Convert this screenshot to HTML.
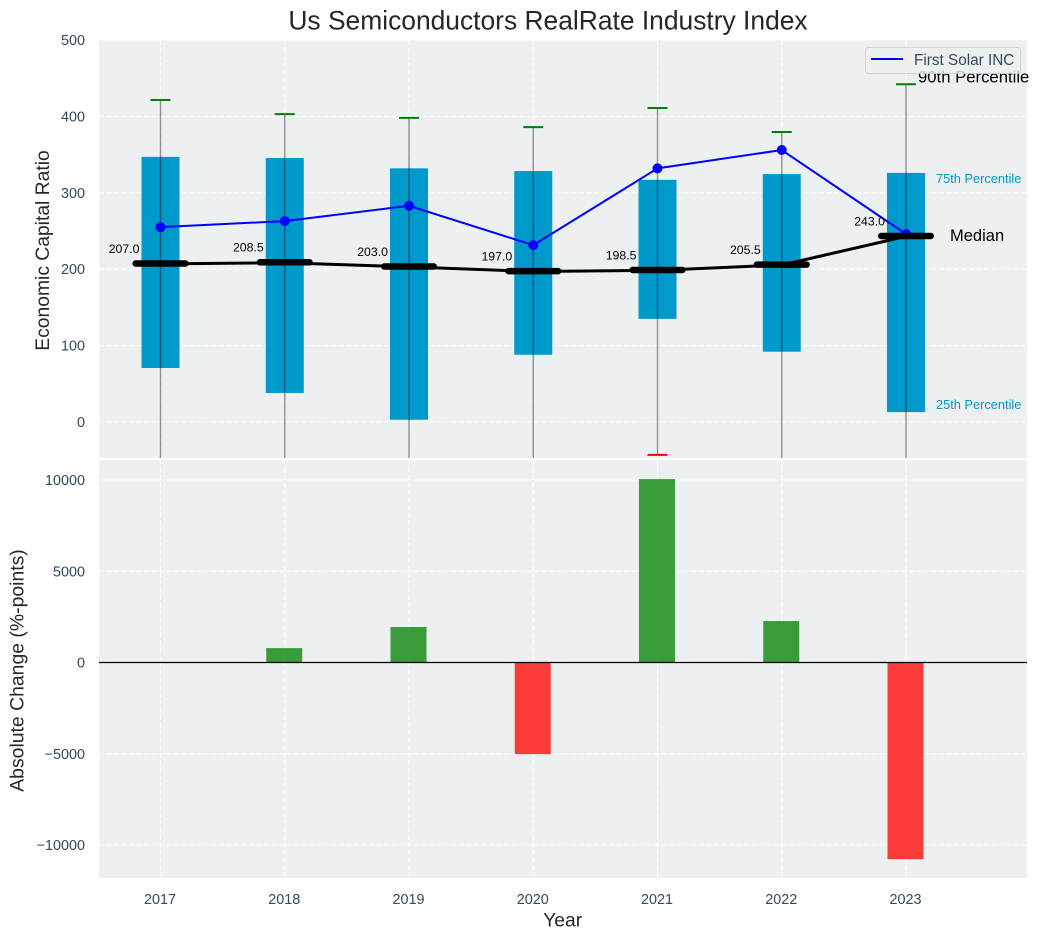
<!DOCTYPE html>
<html lang="en">
<head>
<meta charset="utf-8">
<title>Us Semiconductors RealRate Industry Index</title>
<style>
html,body{margin:0;padding:0;background:#fff;}
svg{display:block;font-family:"Liberation Sans",Arial,sans-serif;}
</style>
</head>
<body>
<svg id="chart" xmlns="http://www.w3.org/2000/svg" width="1038" height="940" viewBox="0 0 1038 940">
  <defs>
    <clipPath id="clip-top"><rect x="99" y="40" width="928" height="418"/></clipPath>
    <clipPath id="clip-bottom"><rect x="99" y="460" width="928" height="418"/></clipPath>
  </defs>
  <rect x="99" y="40" width="928" height="418" fill="#ecf0f1"/>
  <rect x="99" y="460" width="928" height="418" fill="#ecf0f1"/>
  <g id="top-grid"></g>
  <g id="bottom-grid"></g>
  <g id="top-marks" clip-path="url(#clip-top)"></g>
  <g id="bottom-marks" clip-path="url(#clip-bottom)"></g>
  <g id="labels"></g>
  <text x="548" y="29.5" text-anchor="middle" font-size="26.4" fill="#262626">Us Semiconductors RealRate Industry Index</text>
  <text transform="translate(49,250.5) rotate(-90)" text-anchor="middle" font-size="19.3" fill="#262626">Economic Capital Ratio</text>
  <text transform="translate(23.5,670.5) rotate(-90)" text-anchor="middle" font-size="19.4" fill="#262626">Absolute Change (%-points)</text>
  <text x="562.7" y="926.7" text-anchor="middle" font-size="19.3" fill="#262626">Year</text>
  <text x="918" y="82.5" font-size="16.7" fill="#000">90th Percentile</text>
  <text x="936" y="183" font-size="12.8" fill="#0099cc">75th Percentile</text>
  <text x="950" y="241" font-size="16.5" fill="#000">Median</text>
  <text x="936" y="409" font-size="12.8" fill="#0099cc">25th Percentile</text>
  <g>
    <rect x="865.5" y="47.5" width="155" height="26" rx="3" fill="#ecf0f1" fill-opacity="0.8" stroke="#cccccc" stroke-opacity="0.8"/>
    <line x1="871" x2="903" y1="59" y2="59" stroke="#0000ff" stroke-width="2"/>
    <text x="914" y="65" font-size="15.3" fill="#34495e">First Solar INC</text>
  </g>
</svg>
<script>
var years = [2017, 2018, 2019, 2020, 2021, 2022, 2023];
var p10 = [-90, -75, -100, -70, -43, -80, -110];
var p25 = [70.7, 38, 3, 88, 135, 92, 13];
var medians = [207.0, 208.5, 203.0, 197.0, 198.5, 205.5, 243.0];
var p75 = [347, 345.5, 332, 328.5, 317, 324.5, 326];
var p90 = [421.5, 403, 398, 386, 411, 379.5, 442];
var firstSolar = [255, 263, 283, 231.5, 332, 356, 246];
var absoluteChange = [0, 790, 1945, -5020, 10050, 2270, -10780];
var topTicks = [0, 100, 200, 300, 400, 500];
var bottomTicks = [-10000, -5000, 0, 5000, 10000];

var NS = 'http://www.w3.org/2000/svg';
function x(year) { return 160.5 + (year - 2017) * 124.25; }
function yTop(v) { return 422 - v * 0.764; }
function yBottom(v) { return 662.5 - v * 0.01825; }

function make(parent, tag, attrs, text) {
  var el = document.createElementNS(NS, tag);
  for (var k in attrs) { el.setAttribute(k, attrs[k]); }
  if (text !== undefined) { el.textContent = text; }
  parent.appendChild(el);
  return el;
}
function fmt(v) { return String(v).replace('-', '\u2212'); }

var topGrid = document.getElementById('top-grid');
var bottomGrid = document.getElementById('bottom-grid');
var topMarks = document.getElementById('top-marks');
var bottomMarks = document.getElementById('bottom-marks');
var labels = document.getElementById('labels');
var gridStyle = { stroke: '#ffffff', 'stroke-width': 1.1, 'stroke-dasharray': '5 2.5', 'stroke-opacity': 0.9 };

function gridLine(parent, name, a, b, c, d) {
  var el = make(parent, 'line', { x1: a, x2: b, y1: c, y2: d, stroke: gridStyle.stroke, 'stroke-width': gridStyle['stroke-width'], 'stroke-dasharray': gridStyle['stroke-dasharray'], 'stroke-opacity': gridStyle['stroke-opacity'] });
  
  
}

topTicks.forEach(function (t) {
  gridLine(topGrid, 'top-grid-line-y', 99, 1027, yTop(t), yTop(t));
  var lab = make(labels, 'text', { x: 85, y: yTop(t) + 5, 'text-anchor': 'end', 'font-size': 14.4, fill: '#34495e' }, fmt(t));
  
  
});
bottomTicks.forEach(function (t) {
  gridLine(bottomGrid, 'bottom-grid-line-y', 99, 1027, yBottom(t), yBottom(t));
  var lab = make(labels, 'text', { x: 85, y: yBottom(t) + 5, 'text-anchor': 'end', 'font-size': 14.4, fill: '#34495e' }, fmt(t));
  
  
});
years.forEach(function (yr) {
  gridLine(topGrid, 'top-grid-line-x', x(yr), x(yr), 40, 458);
  gridLine(bottomGrid, 'bottom-grid-line-x', x(yr), x(yr), 460, 878);
  var lab = make(labels, 'text', { x: x(yr) - 0.5, y: 904, 'text-anchor': 'middle', 'font-size': 14.4, fill: '#34495e' }, String(yr));
  
  
});

/* Interquartile boxes */
years.forEach(function (yr, i) {
  var box = make(topMarks, 'rect', { x: x(yr) - 19, y: yTop(p75[i]), width: 38, height: yTop(p25[i]) - yTop(p75[i]), fill: '#0099cc' });
  
  
});

/* Whiskers and caps */
years.forEach(function (yr, i) {
  var w = make(topMarks, 'line', { x1: x(yr), x2: x(yr), y1: yTop(p90[i]), y2: yTop(p10[i]), stroke: '#000000', 'stroke-opacity': 0.42, 'stroke-width': 1.4 });
  
  
  var hi = make(topMarks, 'line', { x1: x(yr) - 10, x2: x(yr) + 10, y1: yTop(p90[i]), y2: yTop(p90[i]), stroke: '#008000', 'stroke-width': 2 });
  
  
  var lo = make(topMarks, 'line', { x1: x(yr) - 10, x2: x(yr) + 10, y1: yTop(p10[i]), y2: yTop(p10[i]), stroke: '#ff0000', 'stroke-width': 2 });
  
  
});

/* First Solar series */
var solarPoints = years.map(function (yr, i) { return x(yr) + ',' + yTop(firstSolar[i]); }).join(' ');
var solarLine = make(topMarks, 'polyline', { points: solarPoints, fill: 'none', stroke: '#0000ff', 'stroke-width': 2 });


years.forEach(function (yr, i) {
  var dot = make(topMarks, 'circle', { cx: x(yr), cy: yTop(firstSolar[i]), r: 5, fill: '#0000ff' });
  
  
});

/* Median series */
var medianPoints = years.map(function (yr, i) { return x(yr) + ',' + yTop(medians[i]); }).join(' ');
var medianLine = make(topMarks, 'polyline', { points: medianPoints, fill: 'none', stroke: '#000000', 'stroke-width': 3 });


years.forEach(function (yr, i) {
  var bar = make(topMarks, 'line', { x1: x(yr) - 24.8, x2: x(yr) + 24.8, y1: yTop(medians[i]) - 0.4, y2: yTop(medians[i]) - 0.4, stroke: '#000000', 'stroke-width': 6.5, 'stroke-linecap': 'round' });
  
  
  var lab = make(labels, 'text', { x: x(yr) - 21, y: yTop(medians[i]) - 11, 'text-anchor': 'end', 'font-size': 12.3, fill: '#000000' }, medians[i].toFixed(1));
  
  
});

/* Change bars */
years.forEach(function (yr, i) {
  var v = absoluteChange[i];
  var top = Math.min(yBottom(v), yBottom(0));
  var h = Math.abs(yBottom(v) - yBottom(0));
  var bar = make(bottomMarks, 'rect', { x: x(yr) - 18.5, y: top, width: 36, height: h, fill: v >= 0 ? '#008000' : '#ff0000', 'fill-opacity': 0.76 });
  
  
});
var zero = make(bottomMarks, 'line', { x1: 99, x2: 1027, y1: yBottom(0), y2: yBottom(0), stroke: '#000000', 'stroke-width': 1.2 });


</script>
</body>
</html>
